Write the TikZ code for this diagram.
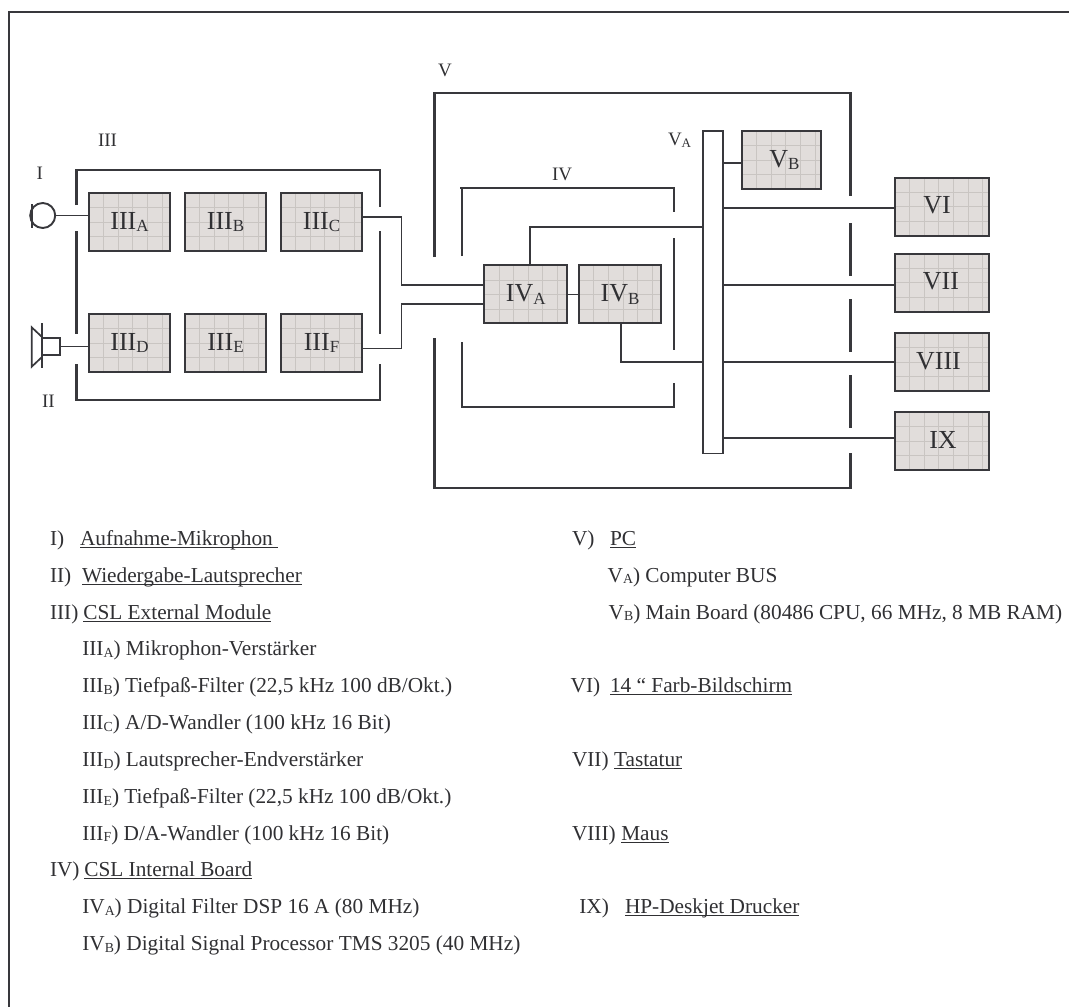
\documentclass[tikz,border=0pt]{standalone}
\usepackage{fontspec}
\setmainfont{Liberation Serif}
\definecolor{ink}{HTML}{38383C}
\definecolor{txt}{HTML}{303033}
\definecolor{boxfill}{HTML}{E1DDDB}
\definecolor{gridc}{HTML}{C9C5C2}
\newcommand\bigsub[1]{\raisebox{-2.6pt}{\fontsize{17}{17}\selectfont #1}}
\newcommand\midsub[1]{\raisebox{-2pt}{\fontsize{13}{13}\selectfont #1}}
\newcommand\lsub[1]{\raisebox{-1.9pt}{\fontsize{13.8}{13.8}\selectfont #1}}
\newcommand\ulin[1]{\setbox0=\hbox{#1}\rlap{\rule[-2.6pt]{\wd0}{1pt}}\box0}
\tikzset{
  x=1pt,y=-1pt,
  frameline/.style={ink,line width=2pt,line cap=butt},
  wall/.style={ink,line width=2.5pt,line join=miter},
  thinwall/.style={ink,line width=2pt,line join=miter},
  wire/.style={ink,line width=1.8pt,line join=miter},
  gridbox/.style={draw=ink,line width=2pt,fill=boxfill,inner sep=0pt,outer sep=0pt,
    minimum width=#1,minimum height=58pt,text height=14pt,text depth=0pt,text=txt,
    font=\fontsize{26}{26}\selectfont,
    path picture={
      \foreach \i in {1,...,6}{
        \draw[gridc,line width=0.8pt] ([xshift=\i*14.6pt]path picture bounding box.north west) -- ([xshift=\i*14.6pt]path picture bounding box.south west);
      }
      \foreach \i in {1,2,3}{
        \draw[gridc,line width=0.8pt] ([yshift=-\i*14.5pt]path picture bounding box.north west) -- ([yshift=-\i*14.5pt]path picture bounding box.north east);
      }
    }},
  tag/.style={anchor=base west,inner sep=0pt,outer sep=0pt,text=txt,font=\fontsize{19}{19}\selectfont},
  legend/.style={anchor=base west,inner sep=0pt,outer sep=0pt,text=txt,font=\fontsize{21.3}{21.3}\selectfont},
}
\begin{document}
\begin{tikzpicture}
\useasboundingbox (0,0) rectangle (1069,1007);
% frame
\draw[frameline] (1069,12) -- (9,12) -- (9,1007);

% enclosure III
\draw[wall] (76.5,205) -- (76.5,170) -- (380,170) -- (380,207);
\draw[wall] (76.5,231) -- (76.5,334);
\draw[wall] (380,231) -- (380,334);
\draw[wall] (76.5,364) -- (76.5,400) -- (380,400) -- (380,364);
% enclosure V
\draw[wall] (434.3,257) -- (434.3,93) -- (850.7,93) -- (850.7,196);
\draw[wall] (850.7,223) -- (850.7,276);
\draw[wall] (850.7,299) -- (850.7,352);
\draw[wall] (850.7,375) -- (850.7,427.5);
\draw[wall] (434.3,338) -- (434.3,488) -- (850.7,488) -- (850.7,453);
% enclosure IV
\draw[thinwall] (462.3,256) -- (462.3,187.5);
\draw[thinwall] (460,187.5) -- (674,187.5) -- (674,212);
\draw[thinwall] (674,238) -- (674,350);
\draw[thinwall] (462.3,342) -- (462.3,406.5) -- (674,406.5) -- (674,383);

% boxes
\node[gridbox=81pt] (iiia) at (129.5,222) {III\bigsub{A}};
\node[gridbox=81pt] (iiib) at (225.5,222) {III\bigsub{B}};
\node[gridbox=81pt] (iiic) at (321.5,222) {III\bigsub{C}};
\node[gridbox=81pt] (iiid) at (129.5,343) {III\bigsub{D}};
\node[gridbox=81pt] (iiie) at (225.5,343) {III\bigsub{E}};
\node[gridbox=81pt] (iiif) at (321.5,343) {III\bigsub{F}};
\node[gridbox=82.5pt] (iva) at (525.7,294.4) {IV\bigsub{A}};
\node[gridbox=81.5pt] (ivb) at (620,294.4) {IV\bigsub{B}};
\node[gridbox=79pt] (vb) at (781.5,160) {\kern6pt V\bigsub{B}};
\node[gridbox=94pt] (vi) at (942,206.8) {\kern-10pt VI};
\node[gridbox=94pt] (vii) at (942,282.5) {\kern-2pt VII};
\node[gridbox=94pt] (viii) at (942,362.2) {\kern-7pt VIII};
\node[gridbox=94pt] (ix) at (942,441.2) {\kern2pt IX};
\node[draw=ink,line width=1.6pt,fill=white,inner sep=0pt,outer sep=0pt,minimum width=19.5pt,minimum height=322.3pt] (bus) at (713,292.2) {};

% microphone
\node[draw=ink,line width=1.9pt,circle,inner sep=0pt,outer sep=0pt,minimum size=25pt] (mic) at (42.7,215.5) {};
\draw[ink,line width=2pt] (31.7,204) -- (31.7,227.6);
% loudspeaker
\node[draw=ink,line width=1.7pt,inner sep=0pt,outer sep=0pt,minimum width=18pt,minimum height=17.5pt] (spk) at (51,346.5) {};
\draw[ink,line width=1.7pt,line join=miter] (42,337) -- (31.7,327.3) -- (31.7,366.7) -- (42,357);
\draw[ink,line width=2.2pt] (42,323) -- (42,368);

% connectors
\draw[wire] (mic.east) -- (mic.east -| iiia.west);
\draw[wire] (spk.east) -- (spk.east -| iiid.west);
\coordinate (jogc) at (401.5,217);
\coordinate (jogf) at (401.5,348.5);
\coordinate (inup) at (484.5,285);
\coordinate (inlo) at (483,304);
\draw[wire] (jogc -| iiic.east) -- (jogc) -- (jogc |- inup) -- (inup);
\draw[wire] (jogf -| iiif.east) -- (jogf) -- (jogf |- inlo) -- (inlo);
\draw[wire] (iva.east |- ivb.west) -- (ivb.west);
\coordinate (upa) at (530.3,227.3);
\draw[wire] (upa |- iva.north) -- (upa) -- (upa -| bus.west);
\coordinate (dnb) at (621,361.7);
\draw[wire] (dnb |- ivb.south) -- (dnb) -- (dnb -| bus.west);
\coordinate (tvb) at (742,162.7);
\coordinate (tvi) at (895,208);
\coordinate (tvii) at (895,284.7);
\coordinate (tviii) at (895,361.7);
\coordinate (tix) at (895,438.3);
\draw[wire] (tvb -| bus.east) -- (tvb);
\draw[wire] (tvi -| bus.east) -- (tvi);
\draw[wire] (tvii -| bus.east) -- (tvii);
\draw[wire] (tviii -| bus.east) -- (tviii);
\draw[wire] (tix -| bus.east) -- (tix);

% tags
\node[tag] (tagiii) at (98,146) {III};
\node[tag] (tagi) at (36.7,179.3) {I};
\node[tag] (tagii) at (42,407.7) {II};
\node[tag] (tagv) at (438,76) {V};
\node[tag] (tagiv) at (552,180) {IV};
\node[tag] (tagva) at (668,145.7) {V\midsub{A}};

% legend left
\node[legend] (l1) at (50,545) {I)};
\node[legend] (l1t) at (80,545) {\ulin{Aufnahme-Mikrophon\ }};
\node[legend] (l2) at (50,582) {II)};
\node[legend] (l2t) at (82,582) {\ulin{Wiedergabe-Lautsprecher}};
\node[legend] (l3) at (50,619) {III)};
\node[legend] (l3t) at (83.3,619) {\ulin{CSL External Module}};
\node[legend] (l4) at (82.3,655.8) {III\lsub{A}) Mikrophon-Verstärker};
\node[legend] (l5) at (82.3,692.7) {III\lsub{B}) Tiefpaß-Filter (22,5 kHz 100 dB/Okt.)};
\node[legend] (l6) at (82.3,729.5) {III\lsub{C}) A/D-Wandler (100 kHz 16 Bit)};
\node[legend] (l7) at (82.3,766.3) {III\lsub{D}) Lautsprecher-Endverstärker};
\node[legend] (l8) at (82.3,803.2) {III\lsub{E}) Tiefpaß-Filter (22,5 kHz 100 dB/Okt.)};
\node[legend] (l9) at (82.3,840) {III\lsub{F}) D/A-Wandler (100 kHz 16 Bit)};
\node[legend] (l10) at (50,876.8) {IV)};
\node[legend] (l10t) at (84.3,876.8) {\ulin{CSL Internal Board}};
\node[legend] (l11) at (82.3,913.7) {IV\lsub{A}) Digital Filter DSP 16 A (80 MHz)};
\node[legend] (l12) at (82.3,950.5) {IV\lsub{B}) Digital Signal Processor TMS 3205 (40 MHz)};
% legend right
\node[legend] (r1) at (572,545) {V)};
\node[legend] (r1t) at (610,545) {\ulin{PC}};
\node[legend] (r2) at (607.7,582) {V\lsub{A}) Computer BUS};
\node[legend] (r3) at (608.7,619) {V\lsub{B}) Main Board (80486 CPU, 66 MHz, 8 MB RAM)};
\node[legend] (r4) at (570.7,692.7) {VI)};
\node[legend] (r4t) at (610,692.7) {\ulin{14 “ Farb-Bildschirm}};
\node[legend] (r5) at (572,766.3) {VII)};
\node[legend] (r5t) at (614,766.3) {\ulin{Tastatur}};
\node[legend] (r6) at (572,840) {VIII)};
\node[legend] (r6t) at (621.3,840) {\ulin{Maus}};
\node[legend] (r7) at (579.3,913.7) {IX)};
\node[legend] (r7t) at (625,913.7) {\ulin{HP-Deskjet Drucker}};
\end{tikzpicture}
\end{document}
